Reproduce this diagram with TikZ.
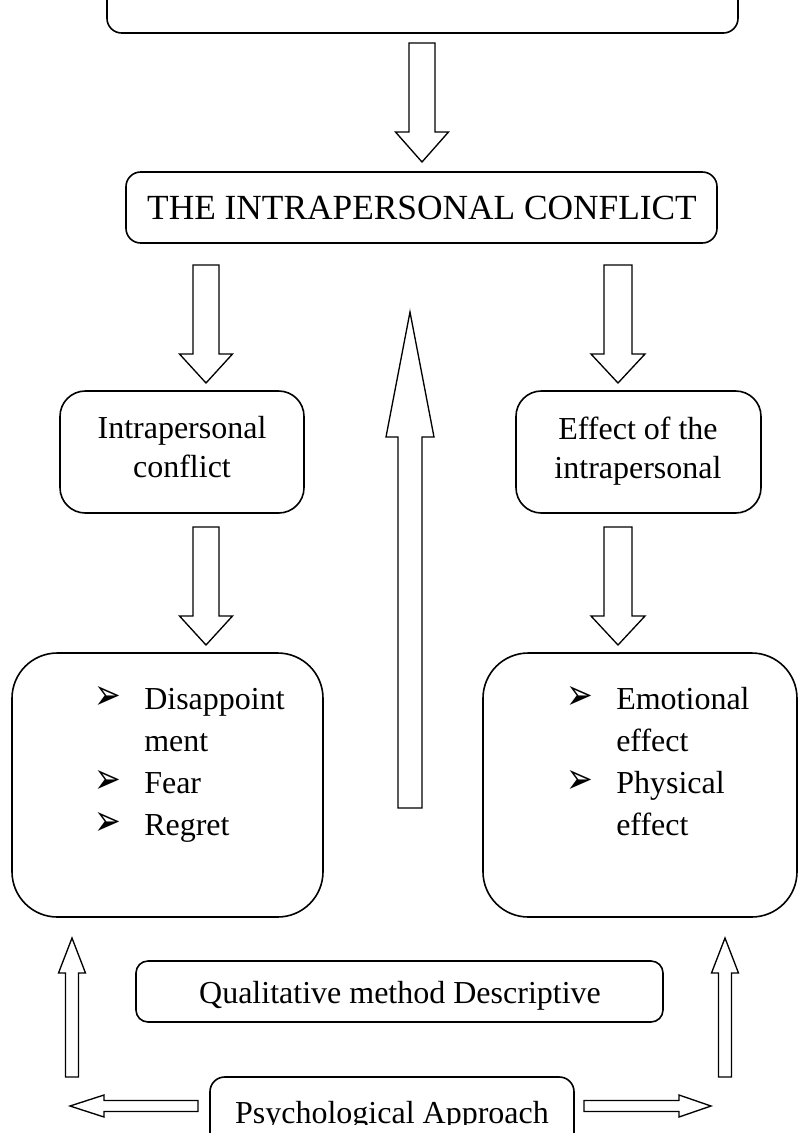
\documentclass[tikz,border=0pt]{standalone}
\usepackage{fontspec}
\setmainfont{Liberation Serif}
\newfontfamily\symfont{DejaVu Sans}
\usetikzlibrary{calc}
% block arrows: (x centre : tail y : head base y : tip y : half shaft : half head)
\def\vblock(#1:#2:#3:#4:#5:#6){\draw[blockarr] ({#1-#5},#2) -- ({#1-#5},#3) -- ({#1-#6},#3) -- (#1,#4) -- ({#1+#6},#3) -- ({#1+#5},#3) -- ({#1+#5},#2) -- cycle;}
\def\hblock(#1:#2:#3:#4:#5:#6){\draw[blockarr] (#2,{#1-#5}) -- (#3,{#1-#5}) -- (#3,{#1-#6}) -- (#4,#1) -- (#3,{#1+#6}) -- (#3,{#1+#5}) -- (#2,{#1+#5}) -- cycle;}
\newcommand{\bul}{{\symfont\fontsize{24}{24}\selectfont\scalebox{1}[1.35]{➢}}}

\begin{document}
\begin{tikzpicture}[x=0.75pt,y=-0.75pt,
	box/.style={draw,line width=1.2pt},
	blockarr/.style={draw,line width=1pt,fill=white},
	txt/.style={anchor=base,inner sep=0pt,font=\fontsize{24}{30}\selectfont},
	item/.style={txt,anchor=base west}]
			%%%%% START %%%%%
			\useasboundingbox (0,0) rectangle (798,1133);
			\clip (0,0) rectangle (798,1133);
			
			\draw[box,rounded corners=11pt] (107,-40) rectangle (738,33);
			\vblock(422:43:132:162:13:26.5)
			
			\draw[box,rounded corners=11pt] (126,172) rectangle (717,243);
			\node[txt,font=\fontsize{26.5}{32}\selectfont] (conflict) at (422,219.5) {THE INTRAPERSONAL CONFLICT};
			
			\vblock(206:265:354:383:13:26.5)
			\vblock(618:265:354:383:14:27)
			
			\draw[box,rounded corners=19pt] (60,391) rectangle (304,513);
			\node[txt] (intra1) at (182,438) {Intrapersonal};
			\node[txt] (intra2) at (182,477) {conflict};
			
			\draw[box,rounded corners=19pt] (516,391) rectangle (761,513);
			\node[txt] (effect1) at (638,439) {Effect of the};
			\node[txt] (effect2) at (638,478) {intrapersonal};
			
			\vblock(410:808:437:312:12:24)
			
			\vblock(206:527:616:645:13:26.5)
			\vblock(618:527:616:645:14:27)
			
			\draw[box,rounded corners=34pt] (12,653) rectangle (323,917);
			\node[txt] (b1) at (108,709) {\bul};
			\node[item] (disap) at (144,709) {Disappoint};
			\node[item] (ment) at (144,751) {ment};
			\node[txt] (b2) at (108,793) {\bul};
			\node[item] (fear) at (144,793) {Fear};
			\node[txt] (b3) at (108,835) {\bul};
			\node[item] (regret) at (144,835) {Regret};
			
			\draw[box,rounded corners=34pt] (483,653) rectangle (797,917);
			\node[txt] (b4) at (580,709) {\bul};
			\node[item] (emo) at (616,709) {Emotional};
			\node[item] (emoeff) at (616,751) {effect};
			\node[txt] (b5) at (580,793) {\bul};
			\node[item] (phys) at (616,793) {Physical};
			\node[item] (physeff) at (616,835) {effect};
			
			\vblock(72:1077:973:938:6.5:13.5)
			\vblock(725:1077:973:938:6.5:13.5)
			
			\draw[box,rounded corners=9pt] (136,961) rectangle (663,1022);
			\node[txt] (method) at (400,1003) {Qualitative method Descriptive};
			
			\draw[box,rounded corners=11pt] (210,1077) rectangle (574,1170);
			\begin{scope}
				\clip (210,1077) rectangle (574,1124);
				\node[txt] (approach) at (392,1123) {Psychological Approach};
			\end{scope}
			
			\hblock(1106:198:104:70:5.5:11)
			\hblock(1106:584:679:711:5.5:11)
			%%%%% END %%%%%
\end{tikzpicture}
\end{document}
